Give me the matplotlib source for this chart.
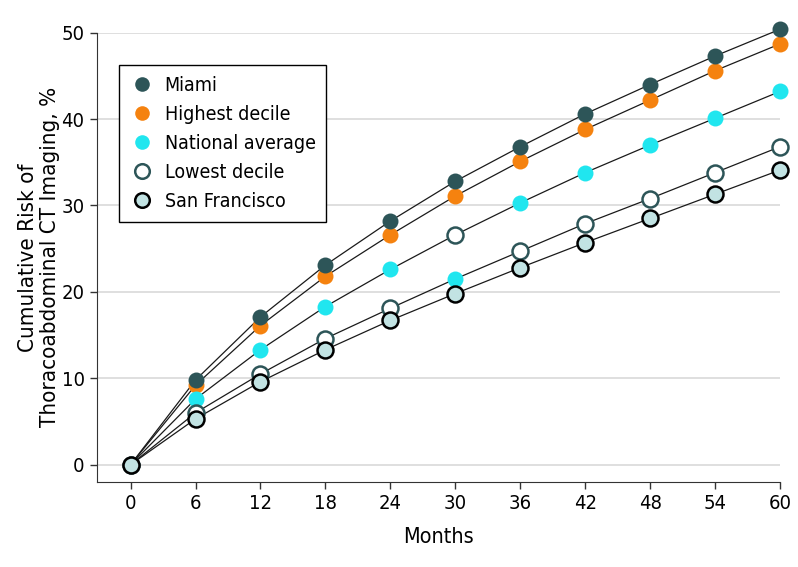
import matplotlib.pyplot as plt
from matplotlib.lines import Line2D

months = [0, 6, 12, 18, 24, 30, 36, 42, 48, 54, 60]

miami = [0, 9.8, 17.1, 23.1, 28.2, 32.8, 36.8, 40.6, 44.0, 47.3, 50.4]
highest_decile = [0, 9.2, 16.1, 21.8, 26.6, 31.1, 35.1, 38.8, 42.2, 45.6, 48.7]
national_average = [0, 7.6, 13.3, 18.3, 22.6, 26.6, 30.3, 33.8, 37.0, 40.1, 43.2]
lowest_decile = [0, 6.0, 10.5, 14.6, 18.1, 21.5, 24.7, 27.9, 30.8, 33.8, 36.8]
san_francisco = [0, 5.3, 9.6, 13.3, 16.7, 19.8, 22.8, 25.7, 28.5, 31.3, 34.1]

# in the source figure the national / lowest markers at month 30 are swapped
national_markers = national_average.copy()
lowest_markers = lowest_decile.copy()
national_markers[5], lowest_markers[5] = lowest_decile[5], national_average[5]

plt.rcParams['font.family'] = ['DejaVu Sans']
plt.rcParams['font.stretch'] = 'condensed'

fig = plt.figure(figsize=(7.98, 5.67), dpi=100)
ax = fig.add_axes([0.1216, 0.150, 0.8558, 0.7923])

styles = {
    'Miami': dict(mfc='#2d5558', mec='#2d5558', mew=0),
    'Highest decile': dict(mfc='#f5820f', mec='#f5820f', mew=0),
    'National average': dict(mfc='#20e6ef', mec='#20e6ef', mew=0),
    'Lowest decile': dict(mfc='white', mec='#2d5558', mew=1.8),
    'San Francisco': dict(mfc='#c2e3e3', mec='black', mew=1.8),
}

# lines first
for vals in [miami, highest_decile, national_average, lowest_decile, san_francisco]:
    ax.plot(months, vals, color='#1a1a1a', lw=0.9, zorder=2, clip_on=False)

# markers, drawn in overlap order seen in the chart
for name, vals in [('Highest decile', highest_decile), ('Miami', miami),
                   ('National average', national_markers),
                   ('Lowest decile', lowest_markers),
                   ('San Francisco', san_francisco)]:
    ax.plot(months, vals, ls='none', marker='o', ms=11.5, zorder=3,
            clip_on=False, **styles[name])

ax.set_xlim(-3.1, 60)
ax.set_ylim(-2, 50)
ax.set_xticks(months)
ax.set_yticks([0, 10, 20, 30, 40, 50])
ax.tick_params(labelsize=14.5, length=5, width=1, color='#333333', pad=4)
ax.grid(axis='y', color='#d9d9d9', lw=1.2)
ax.set_axisbelow(True)
for s in ['top', 'right']:
    ax.spines[s].set_visible(False)
ax.spines['left'].set_bounds(-2, 50)
ax.spines['left'].set_color('#333333')
ax.spines['bottom'].set_color('#333333')

ax.set_xlabel('Months', fontsize=15.5, labelpad=10)
ax.set_ylabel('Cumulative Risk of\nThoracoabdominal CT Imaging, %', fontsize=16,
              labelpad=1, linespacing=1.1)

order = ['Miami', 'Highest decile', 'National average', 'Lowest decile', 'San Francisco']
handles = [Line2D([], [], ls='none', marker='o', ms=10.5, **styles[n]) for n in order]
leg = ax.legend(handles, order, loc='upper left', bbox_to_anchor=(0.032, 0.928),
                fontsize=14, frameon=True, fancybox=False, edgecolor='black',
                framealpha=1, handletextpad=0.5, borderpad=0.55, labelspacing=0.52,
                handlelength=1.3, borderaxespad=0)
leg.get_frame().set_linewidth(1)

fig.savefig('out.png', dpi=100)
